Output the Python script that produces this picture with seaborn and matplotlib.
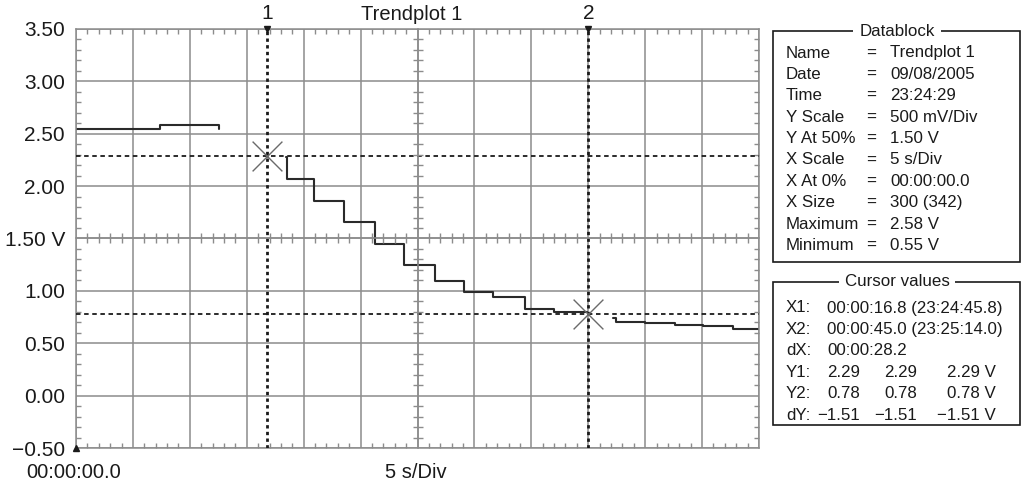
import numpy as np
import pandas as pd
import matplotlib
matplotlib.use("Agg")
import matplotlib.pyplot as plt
import seaborn as sns
from matplotlib.patches import Rectangle
from matplotlib.ticker import MultipleLocator

# trend trace, three pieces (time in s, value in V), drawn as steps
seg1_t = [0.0, 7.35, 12.6]
seg1_v = [2.55, 2.58, 2.55]
seg2_t = [18.45, 18.5, 20.9, 23.5, 26.3, 28.8, 31.5, 34.1, 36.6, 39.4, 42.0, 44.9]
seg2_v = [2.28, 2.07, 1.86, 1.66, 1.45, 1.25, 1.09, 0.99, 0.94, 0.83, 0.80, 0.80]
seg3_t = [47.2, 47.4, 50.0, 52.6, 55.1, 57.7, 60.0]
seg3_v = [0.74, 0.70, 0.69, 0.675, 0.665, 0.64, 0.64]

# cursors
cursor_names = ["1", "2"]
cursor_t = [16.8, 45.0]
cursor_v = [2.29, 0.78]

y_ticks = [-0.5, 0.0, 0.5, 1.0, 1.5, 2.0, 2.5, 3.0, 3.5]
y_labels = ["\u22120.50", "0.00", "0.50", "1.00", "1.50 V", "2.00", "2.50", "3.00", "3.50"]

db_keys = ["Name", "Date", "Time", "Y Scale", "Y At 50%", "X Scale",
           "X At 0%", "X Size", "Maximum", "Minimum"]
db_vals = ["Trendplot 1", "09/08/2005", "23:24:29", "500 mV/Div", "1.50 V",
           "5 s/Div", "00:00:00.0", "300 (342)", "2.58 V", "0.55 V"]

cv_times = [("X1:", "00:00:16.8 (23:24:45.8)"),
            ("X2:", "00:00:45.0 (23:25:14.0)"),
            ("dX:", "00:00:28.2")]
cv_y = [("Y1:", cursor_v[0]), ("Y2:", cursor_v[1]), ("dY:", cursor_v[1] - cursor_v[0])]

trend = pd.concat([pd.DataFrame({"t": t, "v": v, "seg": i})
                   for i, (t, v) in enumerate([(seg1_t, seg1_v), (seg2_t, seg2_v), (seg3_t, seg3_v)])])

sns.set_style("white")
plt.rcParams["font.family"] = ["Liberation Sans", "DejaVu Sans"]

GRID = "#8c8c8c"
INK = "#1a1a1a"
BIG = 15

fig = plt.figure(figsize=(10.24, 4.87), dpi=100)

# side panel in pixel coordinates
panel = fig.add_axes([0, 0, 1, 1])
panel.set_xlim(0, 1024)
panel.set_ylim(487, 0)
panel.axis("off")

ax = fig.add_axes([76 / 1024, 1 - 448 / 487, 683 / 1024, 419 / 487])
ax.set_xlim(0, 60)
ax.set_ylim(-0.5, 3.5)
ax.set_xticks(np.arange(0, 61, 5))
ax.set_yticks(y_ticks, labels=y_labels)
ax.xaxis.set_minor_locator(MultipleLocator(1))
ax.yaxis.set_minor_locator(MultipleLocator(0.1))
ax.grid(True, which="major", color=GRID, lw=1.1)
ax.tick_params(which="major", length=0, pad=8, labelsize=BIG, labelcolor=INK)
ax.tick_params(axis="x", labelbottom=False)
ax.tick_params(which="minor", direction="in", length=3.5, width=1.0, color=GRID,
               top=True, right=True, left=True, bottom=True)
for s in ax.spines.values():
    s.set_color(GRID)
    s.set_linewidth(1.1)

# ticks on the centre cross lines
axc = fig.add_axes(ax.get_position(), sharex=ax, sharey=ax)
axc.patch.set_visible(False)
axc.grid(False)
axc.spines["top"].set_visible(False)
axc.spines["right"].set_visible(False)
axc.spines["left"].set_position(("data", 30))
axc.spines["bottom"].set_position(("data", 1.5))
for s in ["left", "bottom"]:
    axc.spines[s].set_color(GRID)
    axc.spines[s].set_linewidth(1.1)
axc.tick_params(which="major", length=0, labelleft=False, labelbottom=False)
axc.tick_params(which="minor", direction="inout", length=7, width=1.0, color=GRID,
                left=True, bottom=True, top=False, right=False)

sns.lineplot(data=trend, x="t", y="v", units="seg", estimator=None, sort=False,
             drawstyle="steps-post", color="#2a2a2a", lw=1.5, legend=False, ax=ax)
ax.set_xlabel("")
ax.set_ylabel("")

for t, v in zip(cursor_t, cursor_v):
    ax.axvline(t, color=INK, lw=2.0, ls=(0, (1.2, 1.2)), zorder=3)
    ax.axhline(v, color=INK, lw=1.3, ls=(0, (2.5, 2.0)), zorder=3)
sns.scatterplot(x=cursor_t, y=cursor_v, marker="x", s=460, color="#6a6a6a",
                linewidth=1.0, zorder=4, ax=ax)

xt = ax.get_xaxis_transform()
ax.plot(cursor_t, [1.0, 1.0], transform=xt, marker="v", ms=4.5, ls="none",
        color=INK, clip_on=False, zorder=5)
for name, t in zip(cursor_names, cursor_t):
    ax.annotate(name, (t, 1.0), xycoords=xt, xytext=(0, 11), textcoords="offset points",
                ha="center", va="center", fontsize=BIG, color=INK)
ax.plot([0], [-0.5], marker="^", ms=4.5, color=INK, clip_on=False, zorder=5)

fig.text(412 / 1024, 1 - 14 / 487, "Trendplot 1", ha="center", va="center", fontsize=14.5, color=INK)
fig.text(26 / 1024, 1 - 473 / 487, "00:00:00.0", ha="left", va="center", fontsize=14.5, color=INK)
fig.text(416 / 1024, 1 - 473 / 487, "5 s/Div", ha="center", va="center", fontsize=14.5, color=INK)

# Datablock box
fs = 12.2
panel.add_patch(Rectangle((773, 31), 247, 231, fill=False, ec=INK, lw=1.2))
panel.text(897, 31, "Datablock", ha="center", va="center", fontsize=fs, color=INK,
           bbox=dict(boxstyle="square,pad=0.35", fc="white", ec="none"))
for i, (k, v) in enumerate(zip(db_keys, db_vals)):
    y = 53 + i * 21.4
    panel.text(786, y, k, ha="left", va="center", fontsize=fs, color=INK)
    panel.text(871, y, "=", ha="center", va="center", fontsize=fs, color=INK)
    panel.text(890, y, v, ha="left", va="center", fontsize=fs, color=INK)

# Cursor values box
panel.add_patch(Rectangle((773, 282), 247, 143, fill=False, ec=INK, lw=1.2))
panel.text(897, 282, "Cursor values", ha="center", va="center", fontsize=fs, color=INK,
           bbox=dict(boxstyle="square,pad=0.35", fc="white", ec="none"))
row = 0
for k, v in cv_times:
    y = 308 + row * 21.4
    panel.text(786, y, k, ha="left", va="center", fontsize=fs, color=INK)
    panel.text(827, y, v, ha="left", va="center", fontsize=fs, color=INK)
    row += 1
for k, v in cv_y:
    y = 308 + row * 21.4
    s = f"{v:.2f}".replace("-", "\u2212")
    panel.text(786, y, k, ha="left", va="center", fontsize=fs, color=INK)
    panel.text(860, y, s, ha="right", va="center", fontsize=fs, color=INK)
    panel.text(917, y, s, ha="right", va="center", fontsize=fs, color=INK)
    panel.text(996, y, s + " V", ha="right", va="center", fontsize=fs, color=INK)
    row += 1

fig.savefig("out.png", dpi=100)
